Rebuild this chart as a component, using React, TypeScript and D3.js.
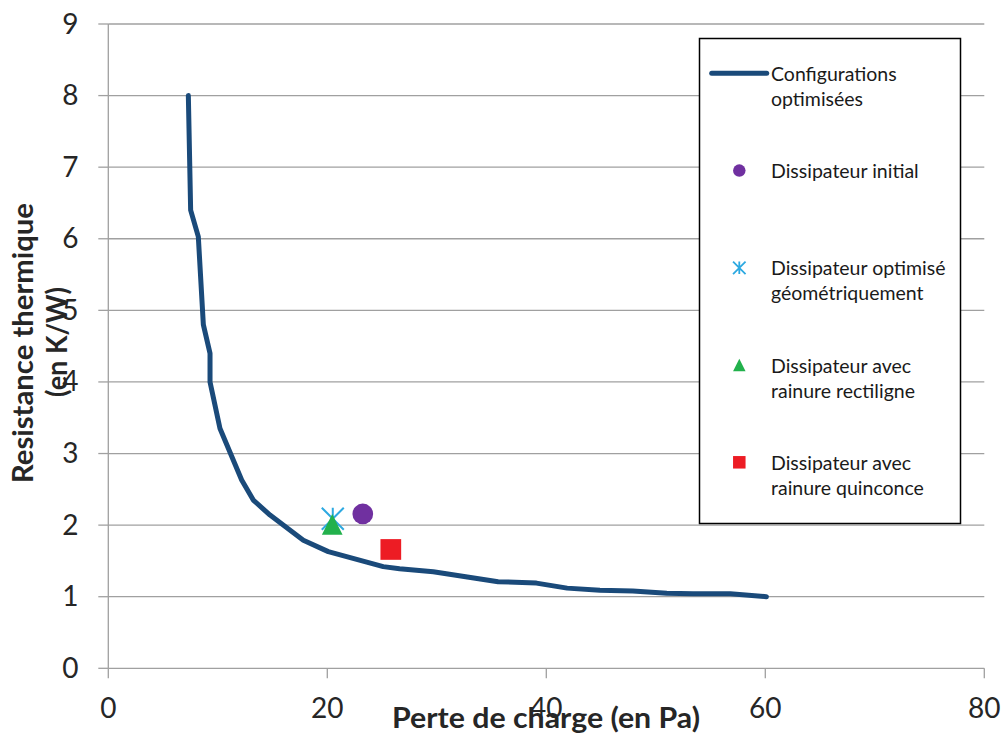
import React from 'react';
import * as d3 from 'd3';

// Optimised configurations curve (Perte de charge en Pa, Resistance thermique en K/W)
const curveX = [7.31, 7.52, 8.22, 8.68, 9.29, 9.29, 10.2, 12.18, 13.24, 14.77, 17.81, 20.09, 25.11, 26.6, 29.68, 35.6, 39.1, 41.9, 44.9, 47.9, 51.0, 53.4, 56.8, 60.1];
const curveY = [8.0, 6.4, 6.03, 4.8, 4.4, 4.0, 3.35, 2.63, 2.35, 2.14, 1.79, 1.63, 1.42, 1.39, 1.35, 1.21, 1.19, 1.12, 1.09, 1.08, 1.05, 1.04, 1.04, 1.0];

// Individual heat sinks
const pointNames = ['Dissipateur initial', 'Dissipateur optimisé géométriquement', 'Dissipateur avec rainure rectiligne', 'Dissipateur avec rainure quinconce'];
const pointX = [23.24, 20.5, 20.45, 25.8];
const pointY = [2.156, 2.09, 2.01, 1.66];
const pointShapes = ['circle', 'asterisk', 'triangle', 'square'];
const pointColors = ['#7030A0', '#2DA9E1', '#22B14C', '#ED1C24'];

const xTicks = [0, 20, 40, 60, 80];
const yTicks = [0, 1, 2, 3, 4, 5, 6, 7, 8, 9];

const legendLines = [
  ['Configurations', 'optimisées'],
  ['Dissipateur initial'],
  ['Dissipateur optimisé', 'géométriquement'],
  ['Dissipateur avec', 'rainure rectiligne'],
  ['Dissipateur avec', 'rainure quinconce'],
];

const xTitle = 'Perte de charge (en Pa)';
const yTitle1 = 'Resistance thermique';
const yTitle2 = '(en K/W)';

const lineColor = '#1A4A7A';
const gridColor = '#A0A0A0';
const FONT = 'Lato, "Open Sans", sans-serif';

function Marker({ shape, color, s }: { shape: string; color: string; s: number }) {
  if (shape === 'circle') return <circle r={s / 2} fill={color} />;
  if (shape === 'square') return <rect x={-s / 2} y={-s / 2} width={s} height={s} fill={color} />;
  if (shape === 'triangle')
    return <path d={`M0,${-s / 2}L${s / 2},${s / 2}L${-s / 2},${s / 2}Z`} fill={color} />;
  const h = s / 2;
  return (
    <path
      d={`M${-h},${-h}L${h},${h}M${-h},${h}L${h},${-h}M0,${-h}L0,${h}`}
      stroke={color}
      strokeWidth={s > 15 ? 2 : 1.8}
      fill="none"
    />
  );
}

export default function App() {
  const x = d3.scaleLinear().domain([0, 80]).range([108.3, 984.3]);
  const y = d3.scaleLinear().domain([0, 9]).range([668.3, 24]);

  const data = curveX.map((v, i) => [v, curveY[i]] as [number, number]);
  const line = d3
    .line<[number, number]>()
    .x((d) => x(d[0]))
    .y((d) => y(d[1]));

  const legX = 699.5;
  const legY = 38.5;
  const legW = 261;
  const legH = 485;
  const rowY0 = 73.3;
  const rowStep = 97.25;

  return (
    <svg
      width={1003}
      height={735}
      style={{ position: 'absolute', left: 0, top: 0, background: '#fff' }}
      fontFamily={FONT}
    >
      <rect width={1003} height={735} fill="#fff" />
      {/* gridlines */}
      {yTicks.map((t) => (
        <line key={'g' + t} x1={x(0)} x2={x(80)} y1={y(t)} y2={y(t)} stroke={gridColor} strokeWidth={1.3} />
      ))}
      {/* y axis */}
      <line x1={x(0)} x2={x(0)} y1={y(9)} y2={y(0)} stroke={gridColor} strokeWidth={1.3} />
      {yTicks.map((t) => (
        <line key={'yt' + t} x1={x(0) - 10} x2={x(0)} y1={y(t)} y2={y(t)} stroke={gridColor} strokeWidth={1.3} />
      ))}
      {xTicks.map((t) => (
        <line key={'xt' + t} x1={x(t)} x2={x(t)} y1={y(0)} y2={y(0) + 10} stroke={gridColor} strokeWidth={1.3} />
      ))}
      {/* tick labels */}
      {yTicks.map((t) => (
        <text key={'yl' + t} x={78.5} y={y(t) + 9.5} textAnchor="end" fontSize={28} fill="#262626">
          {t}
        </text>
      ))}
      {xTicks.map((t) => (
        <text key={'xl' + t} x={x(t)} y={718} textAnchor="middle" fontSize={28} fill="#262626">
          {t}
        </text>
      ))}
      {/* titles */}
      <text
        x={546}
        y={728}
        textAnchor="middle"
        fontSize={29}
        fontWeight="bold"
        fill="#262626"
        textLength={308}
        lengthAdjust="spacingAndGlyphs"
      >
        {xTitle}
      </text>
      <text
        transform="translate(33,343) rotate(-90)"
        textAnchor="middle"
        fontSize={29}
        fontWeight="bold"
        fill="#262626"
        textLength={280}
        lengthAdjust="spacingAndGlyphs"
      >
        {yTitle1}
      </text>
      <text
        transform="translate(67,342) rotate(-90)"
        textAnchor="middle"
        fontSize={29}
        fontWeight="bold"
        fill="#262626"
        textLength={110}
        lengthAdjust="spacingAndGlyphs"
      >
        {yTitle2}
      </text>

      {/* curve */}
      <path d={line(data) || ''} fill="none" stroke={lineColor} strokeWidth={5} strokeLinejoin="round" strokeLinecap="round" />

      {/* points */}
      {pointX.map((v, i) => (
        <g key={'p' + i} transform={`translate(${x(v)},${y(pointY[i])})`}>
          <title>{pointNames[i]}</title>
          <Marker shape={pointShapes[i]} color={pointColors[i]} s={pointShapes[i] === 'asterisk' ? 22 : 20.7} />
        </g>
      ))}

      {/* legend */}
      <rect x={legX} y={legY} width={legW} height={legH} fill="#fff" stroke="#000" strokeWidth={1.5} />
      {legendLines.map((lines, i) => {
        const cy = rowY0 + i * rowStep;
        return (
          <g key={'lg' + i}>
            {i === 0 ? (
              <line x1={711.7} x2={766.7} y1={cy} y2={cy} stroke={lineColor} strokeWidth={5} strokeLinecap="round" />
            ) : (
              <g transform={`translate(739.3,${cy})`}>
                <Marker shape={pointShapes[i - 1]} color={pointColors[i - 1]} s={12.5} />
              </g>
            )}
            {lines.map((l, j) => (
              <text key={j} x={771} y={cy + 7.5 + j * 25} fontSize={19.5} fill="#1a1a1a">
                {l}
              </text>
            ))}
          </g>
        );
      })}
    </svg>
  );
}
